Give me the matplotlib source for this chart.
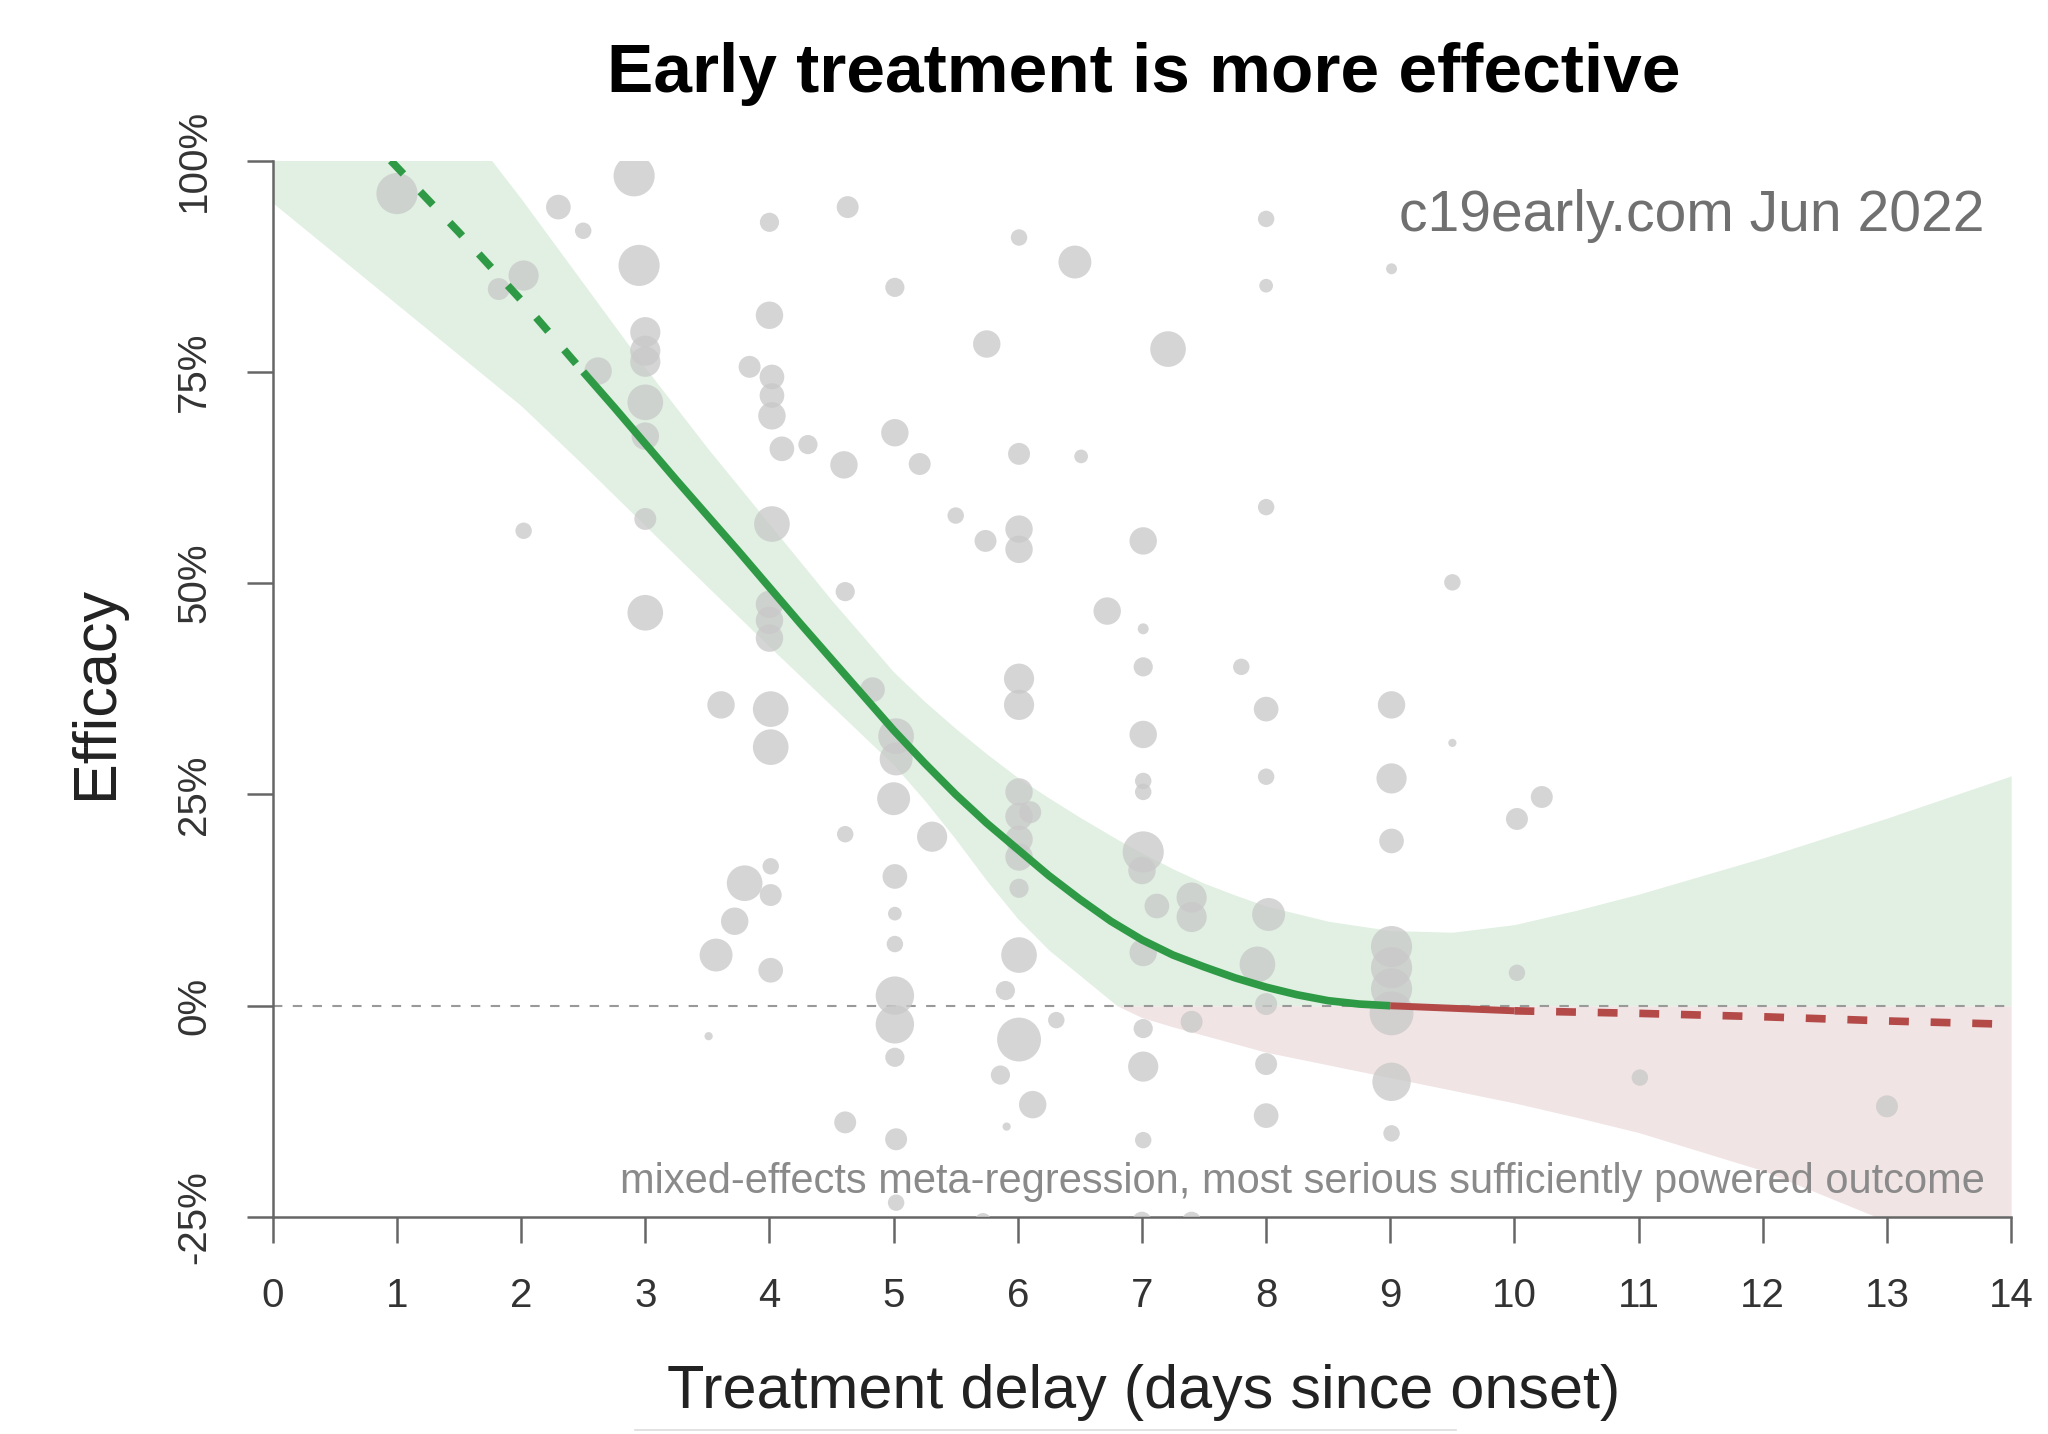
import matplotlib
matplotlib.use("Agg")
import matplotlib.pyplot as plt
import numpy as np

plt.rcParams['font.family'] = ['Liberation Sans', 'DejaVu Sans']

# study results: delay (days), efficacy (%), weight (marker radius)
study_day = [1.0, 1.82, 2.02, 2.02, 2.3, 2.5, 2.62, 2.91, 2.95, 3.0, 3.0, 3.0, 3.0, 3.0, 3.0, 3.0,
             3.84, 4.0, 4.0, 4.02, 4.02, 4.02, 4.1, 4.31, 4.02, 4.0, 4.0, 4.0, 4.6, 4.63, 4.61,
             3.61, 4.01, 4.01, 4.83, 5.02, 5.02, 5.0, 5.31, 4.61, 4.01, 3.8, 4.01, 3.72, 3.57, 4.01, 3.51,
             5.01, 5.01, 5.01, 5.01, 5.01, 5.01, 4.61, 5.02, 5.02, 5.01, 5.01, 5.21, 5.5, 5.74, 5.75,
             6.01, 6.01, 6.01, 6.01, 6.46, 6.51, 6.01, 6.01, 6.01, 6.01, 6.01, 6.01, 6.1, 6.01, 6.01,
             5.9, 6.31, 6.01, 5.86, 6.12, 5.91, 6.72, 7.01, 7.01, 7.01, 7.01, 7.01, 7.01, 7.0, 7.12,
             7.4, 7.4, 7.01, 7.01, 7.01, 7.01, 7.4, 7.01, 7.21, 7.8, 8.0, 8.0, 8.0, 8.0, 8.0, 8.02,
             7.93, 8.0, 8.0, 8.0, 9.01, 9.01, 9.01, 9.01, 9.01, 9.01, 9.01, 9.01, 9.01, 9.01, 9.5, 9.5,
             10.02, 10.22, 10.02, 11.01, 13.0, 5.72, 6.0, 7.0, 7.4]
study_eff = [96.1, 84.8, 86.4, 56.2, 94.5, 91.7, 75.1, 98.2, 87.6, 79.7, 77.5, 76.2, 71.4, 67.4, 57.6, 46.5,
             75.6, 92.7, 81.7, 74.4, 72.2, 69.8, 65.9, 66.4, 57.0, 47.5, 45.6, 43.5, 64.0, 94.5, 49.0,
             35.6, 35.1, 30.6, 37.4, 31.9, 29.2, 24.5, 20.0, 20.3, 16.5, 14.5, 13.1, 10.0, 6.0, 4.2, -3.6,
             15.3, 10.9, 7.3, 1.2, -2.2, -6.1, -13.8, -15.8, -23.3, 85.0, 67.8, 64.1, 58.0, 55.0, 78.3,
             90.9, 65.3, 56.4, 54.0, 88.0, 65.0, 38.7, 35.6, 25.3, 22.4, 19.7, 17.6, 22.9, 13.9, 6.0,
             1.8, -1.7, -4.0, -8.2, -11.7, -14.3, 46.7, 44.6, 40.1, 32.1, 26.6, 25.3, 18.2, 16.0, 11.8,
             12.8, 10.5, 6.3, -2.7, -7.2, -15.9, -1.9, 55.0, 77.7, 40.1, 35.1, 27.1, 93.1, 85.2, 59.0, 10.8,
             4.9, 0.2, -6.9, -13.0, 87.2, 35.6, 26.9, 19.5, 7.0, 4.5, 2.0, -0.9, -9.0, -15.1, 50.1, 31.1,
             22.1, 24.7, 3.9, -8.5, -11.9, -25.5, -25.8, -25.5, -25.5]
study_wt = [15, 8, 11, 6, 9, 6, 10, 15, 15, 11, 11, 11, 13, 10, 8, 13,
            8, 7, 10, 9, 9, 10, 9, 7, 13, 10, 10, 10, 10, 8, 7,
            10, 13, 13, 9, 13, 12, 12, 11, 6, 6, 13, 8, 10, 12, 9, 3,
            9, 5, 6, 14, 14, 7, 8, 8, 6, 7, 10, 8, 6, 8, 10,
            6, 8, 10, 10, 12, 5, 11, 11, 10, 10, 10, 10, 8, 7, 13,
            7, 6, 16, 7, 10, 3, 10, 4, 7, 10, 6, 6, 15, 10, 9,
            11, 11, 10, 7, 11, 6, 8, 10, 13, 6, 9, 6, 6, 5, 6, 12,
            13, 8, 8, 9, 4, 10, 11, 9, 15, 15, 15, 16, 14, 6, 6, 3,
            8, 8, 6, 6, 8, 6, 5, 7, 7]

# meta-regression fit (positive part)
fit_x = [0.95, 1.5, 2.0, 2.5, 2.75, 3.0, 3.25, 3.5, 3.75, 4.0, 4.25, 4.5, 4.75, 5.0, 5.25, 5.5, 5.75,
         6.0, 6.25, 6.5, 6.75, 7.0, 7.25, 7.5, 7.75, 8.0, 8.25, 8.5, 8.75, 9.0]
fit_y = [100, 91.5, 83.5, 75, 70.8, 66.5, 62.2, 58, 53.8, 49.5, 45.2, 41, 36.8, 32.6, 28.7, 25, 21.6,
         18.5, 15.4, 12.6, 10.0, 7.8, 6.0, 4.6, 3.3, 2.2, 1.3, 0.6, 0.2, 0]
# negative part of the fit
neg_x = [9.0, 9.5, 10.0, 11.0, 12.0, 13.0, 14.0]
neg_y = [0, -0.3, -0.6, -0.9, -1.3, -1.8, -2.2]

# confidence band
band_x = [0, 0.5, 1, 1.5, 2, 2.5, 3, 3.5, 4, 4.5, 5, 5.25, 5.5, 5.75, 6, 6.25, 6.5, 6.8, 7, 7.25,
          7.5, 7.75, 8, 8.5, 9, 9.5, 10, 10.5, 11, 12, 13, 14]
band_hi = [135, 125, 115, 105, 95.5, 85.5, 75.5, 66, 57, 48, 39.5, 36, 32.8, 29.8, 27, 24.6, 22.3,
           19.7, 18.1, 16.2, 14.5, 13.1, 11.8, 10, 8.9, 8.7, 9.6, 11.3, 13.2, 17.5, 22.2, 27.2]
band_lo = [95, 89, 83, 77, 71, 64, 56.8, 49.6, 42.5, 35.5, 28.5, 24.3, 19.7, 14.8, 10.3, 6.6, 3.6,
           0, -1.4, -2.5, -3.5, -4.5, -5.5, -7, -8.5, -10, -11.5, -13.2, -15, -19.5, -25.5, -31]

x_ticks = list(range(0, 15))
y_ticks = [-25, 0, 25, 50, 75, 100]
y_tick_labels = ['-25%', '0%', '25%', '50%', '75%', '100%']

green = '#2f9a45'
red = '#b34a48'
axcol = '#666666'

fig = plt.figure(figsize=(20.48, 14.34), dpi=100)
ax = fig.add_axes([0.1332, 0.1513, 0.982 - 0.1332, 0.888 - 0.1513])

bx = np.array(band_x)
hi = np.array(band_hi)
lo = np.array(band_lo)
ax.fill_between(bx, np.clip(lo, 0, None), hi, color='#e1f0e3', lw=0, zorder=1)
ax.fill_between(bx, np.clip(lo, None, 0), 0, color='#f1e4e5', lw=0, zorder=1)

ax.axhline(0, color='#999999', lw=1.5, ls=(0, (4.5, 5)), zorder=2)

sizes = 3.9 * np.array(study_wt) ** 2
ax.scatter(study_day, study_eff, s=sizes, color='#c8c8c8', alpha=0.75, lw=0, zorder=3)

fx = np.array(fit_x)
fy = np.array(fit_y)
ax.plot(fx[fx <= 2.5], fy[fx <= 2.5], color=green, lw=5.5, dashes=(2.4, 3.2), zorder=4)
ax.plot(fx[fx >= 2.5], fy[fx >= 2.5], color=green, lw=5.5, solid_capstyle='butt', zorder=4)

nx = np.array(neg_x)
ny = np.array(neg_y)
ax.plot(nx[nx <= 10], ny[nx <= 10], color=red, lw=5, solid_capstyle='butt', zorder=4)
ax.plot(nx[nx >= 10], ny[nx >= 10], color=red, lw=5.5, dashes=(2.6, 2.85), zorder=4)

ax.set_xlim(0, 14)
ax.set_ylim(-25, 100)
for side in ['top', 'right']:
    ax.spines[side].set_visible(False)
for side in ['left', 'bottom']:
    ax.spines[side].set_color(axcol)
    ax.spines[side].set_linewidth(1.8)

ax.set_xticks(x_ticks)
ax.set_xticklabels([str(t) for t in x_ticks])
ax.set_yticks(y_ticks)
ax.set_yticklabels(y_tick_labels)
ax.tick_params(axis='both', length=19, width=1.8, color=axcol, labelsize=29,
               labelcolor='#333333', pad=24)
ax.tick_params(axis='y', labelrotation=90)
for lab in ax.get_yticklabels():
    lab.set_va('center')

fig.text(0.5583, 0.936, 'Early treatment is more effective', fontsize=50,
         fontweight='bold', ha='center', va='baseline')
fig.text(0.5583, 0.0181, 'Treatment delay (days since onset)', fontsize=44,
         ha='center', va='baseline', color='#222222')
fig.text(0.0472, 0.5174, 'Efficacy', fontsize=44, rotation=90,
         ha='center', va='center', color='#222222')
ax.text(0.969, 0.8497, 'c19early.com Jun 2022', transform=fig.transFigure,
        fontsize=41, ha='right', va='center', color='#707070', zorder=5)
ax.text(0.969, 0.1757, 'mixed-effects meta-regression, most serious sufficiently powered outcome',
        transform=fig.transFigure, fontsize=30, ha='right', va='center',
        color='#8a8a8a', zorder=5)

fig.add_artist(plt.Line2D([0.31, 0.711], [0.003, 0.003], color='#dddddd', lw=1.2))

fig.savefig('out.png', dpi=100)
